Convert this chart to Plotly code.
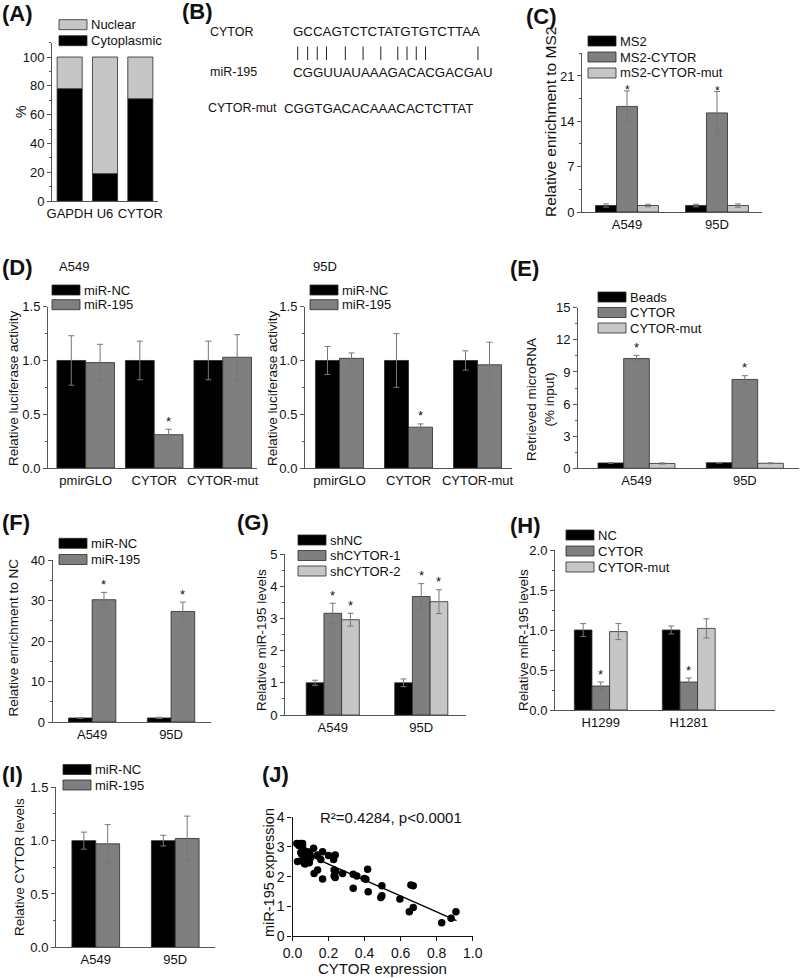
import plotly.graph_objects as go

W, H = 800, 978
FONT = "Liberation Sans, Arial, sans-serif"
BLACK = "#000000"
DARK = "#7f7f7f"
LIGHT = "#c6c6c6"
EDGE = "#2a2a2a"
ERRC = "#777777"
AXC = "#555555"
TXT = "#111111"

# ---------------- data ----------------
a_categories = ["GAPDH", "U6", "CYTOR"]
a_cytoplasmic = [78, 19, 71]
a_nuclear = [22, 81, 29]

b_cytor = "GCCAGTCTCTATGTGTCTTAA"
b_mir195 = "CGGUUAUAAAGACACGACGAU"
b_cytor_mut = "CGGTGACACAAACACTCTTAT"
b_pair_index = [0, 1, 2, 3, 5, 7, 9, 11, 12, 13, 14, 20]

cell_lines = ["A549", "95D"]
c_ms2 = [1.0, 1.0]
c_ms2_err = [0.25, 0.2]
c_ms2_cytor = [16.3, 15.3]
c_ms2_cytor_err = [2.4, 3.3]
c_ms2_mut = [1.0, 1.0]
c_ms2_mut_err = [0.2, 0.25]
c_stars = [(1, 0), (1, 1)]

d_constructs = ["pmirGLO", "CYTOR", "CYTOR-mut"]
d_a549_nc = [1.0, 1.0, 1.0]
d_a549_nc_err = [0.23, 0.18, 0.18]
d_a549_mir = [0.98, 0.31, 1.03]
d_a549_mir_err = [0.17, 0.05, 0.21]
d_95d_nc = [1.0, 1.0, 1.0]
d_95d_nc_err = [0.13, 0.25, 0.09]
d_95d_mir = [1.02, 0.38, 0.96]
d_95d_mir_err = [0.05, 0.03, 0.21]
d_stars = [(1, 1)]

e_beads = [0.5, 0.52]
e_beads_err = [0.03, 0.03]
e_cytor = [10.25, 8.3]
e_cytor_err = [0.3, 0.35]
e_cytor_mut = [0.45, 0.47]
e_cytor_mut_err = [0.05, 0.04]
e_stars = [(1, 0), (1, 1)]

f_nc = [1.0, 1.0]
f_nc_err = [0.1, 0.15]
f_mir = [30.2, 27.3]
f_mir_err = [1.8, 2.3]
f_stars = [(1, 0), (1, 1)]

g_shnc = [1.0, 1.0]
g_shnc_err = [0.08, 0.12]
g_sh1 = [3.16, 3.68]
g_sh1_err = [0.31, 0.4]
g_sh2 = [2.96, 3.52]
g_sh2_err = [0.2, 0.37]
g_stars = [(1, 0), (2, 0), (1, 1), (2, 1)]

h_lines = ["H1299", "H1281"]
h_nc = [1.0, 1.0]
h_nc_err = [0.08, 0.05]
h_cytor = [0.30, 0.35]
h_cytor_err = [0.05, 0.05]
h_mut = [0.98, 1.02]
h_mut_err = [0.1, 0.12]
h_stars = [(1, 0), (1, 1)]

i_nc = [1.0, 1.0]
i_nc_err = [0.08, 0.05]
i_mir = [0.97, 1.02]
i_mir_err = [0.18, 0.21]

j_x = [0.024, 0.043, 0.056, 0.056, 0.028, 0.046, 0.065, 0.074, 0.087, 0.065,
       0.083, 0.098, 0.117, 0.120, 0.139, 0.139, 0.157, 0.167, 0.167, 0.200,
       0.228, 0.237, 0.231, 0.240, 0.231, 0.237, 0.278, 0.337, 0.357, 0.337,
       0.398, 0.407, 0.417, 0.420, 0.496, 0.490, 0.496, 0.596, 0.648, 0.657,
       0.670, 0.670, 0.828, 0.880, 0.907, 0.052, 0.070, 0.093, 0.097, 0.084,
       0.035, 0.060, 0.100]
j_y = [3.12, 3.12, 3.12, 2.99, 2.51, 2.81, 2.73, 2.81, 2.73, 2.45,
       2.51, 2.62, 2.96, 2.11, 2.22, 2.73, 2.58, 2.84, 1.92, 2.71,
       2.58, 2.73, 2.22, 2.17, 2.02, 1.97, 2.11, 2.08, 2.02, 1.61,
       1.94, 1.91, 2.25, 1.49, 1.69, 1.30, 1.36, 1.25, 0.82, 1.72,
       1.69, 0.96, 0.45, 0.60, 0.82, 2.75, 2.43, 2.47, 2.76, 2.84,
       3.05, 2.62, 2.66]
j_fit_x = [0.03, 0.91]
j_fit_y = [2.88, 0.52]

# ---------------- helpers ----------------
def fx(px):
    return px / W

def fy(py):
    return 1 - py / H

fig = go.Figure()
annotations = []
shapes = []
layout_axes = {}


def txt(x, y, text, size=13, xanchor="left", angle=0, bold=False, color=TXT):
    annotations.append(dict(
        x=fx(x), y=fy(y), xref="paper", yref="paper", text=text, showarrow=False,
        xanchor=xanchor, yanchor="middle", textangle=angle,
        font=dict(family=FONT, size=size, color=color,
                  weight="bold" if bold else "normal"),
    ))


def refs(k):
    return ("x" if k == 1 else f"x{k}"), ("y" if k == 1 else f"y{k}")


def bar_axes(k, xpx, ypx, xrange, yrange, dtick, minor, tickfmt=None):
    xr, yr = refs(k)
    xa = "xaxis" if k == 1 else f"xaxis{k}"
    ya = "yaxis" if k == 1 else f"yaxis{k}"
    layout_axes[xa] = dict(
        domain=[fx(xpx[0]), fx(xpx[1])], range=xrange, anchor=yr, type="category",
        showline=True, linecolor=AXC, linewidth=1, ticks="", showgrid=False,
        zeroline=False, automargin=False,
        tickfont=dict(family=FONT, size=13, color=TXT),
    )
    yd = dict(
        domain=[fy(ypx[1]), fy(ypx[0])], range=yrange, anchor=xr,
        showline=True, linecolor=AXC, linewidth=1, ticks="outside", ticklen=4,
        tickwidth=1, tickcolor=AXC, dtick=dtick, tick0=0, showgrid=False,
        zeroline=False, automargin=False,
        tickfont=dict(family=FONT, size=13, color=TXT),
        minor=dict(ticks="outside", ticklen=2, dtick=minor, tickcolor=AXC, tickwidth=1),
    )
    if tickfmt:
        yd["tickformat"] = tickfmt
    layout_axes[ya] = yd


def bar_series(k, cats, series, bw, stars=(), star_shift=8, star_size=13):
    xr, yr = refs(k)
    n = len(series)
    offs = []
    for i, (vals, errs, color) in enumerate(series):
        off = -n * bw / 2 + i * bw
        offs.append(off)
        fig.add_trace(go.Bar(
            x=cats, y=vals, width=bw, offset=off, xaxis=xr, yaxis=yr,
            marker=dict(color=color, line=dict(color=EDGE, width=0.8)),
            error_y=dict(type="data", array=errs, color=ERRC, thickness=1, width=3),
            showlegend=False,
        ))
    for (si, ci) in stars:
        vals, errs, _ = series[si]
        annotations.append(dict(
            x=ci + offs[si] + bw / 2, y=vals[ci] + errs[ci], xref=xr, yref=yr,
            text="*", showarrow=False, yshift=star_shift, xanchor="center",
            yanchor="middle", font=dict(family=FONT, size=star_size, color=TXT),
        ))


def legend(xpx, y0, items, step=15.7, sw=28, sh=10, size=13):
    for i, (label, color) in enumerate(items):
        yc = y0 + i * step
        shapes.append(dict(
            type="rect", xref="paper", yref="paper", x0=fx(xpx), x1=fx(xpx + sw),
            y0=fy(yc + sh / 2), y1=fy(yc - sh / 2), fillcolor=color,
            line=dict(color=EDGE, width=0.8),
        ))
        txt(xpx + sw + 2, yc, label, size)


# ---------------- (A) ----------------
bar_axes(1, (52, 158), (42.6, 201), [-0.5, 2.5], [0, 110], 20, 10)
fig.add_trace(go.Bar(x=a_categories, y=a_cytoplasmic, width=0.71, offset=-0.355,
                     xaxis="x", yaxis="y",
                     marker=dict(color=BLACK, line=dict(color=EDGE, width=0.8)),
                     showlegend=False))
fig.add_trace(go.Bar(x=a_categories, y=a_nuclear, base=a_cytoplasmic, width=0.71,
                     offset=-0.355, xaxis="x", yaxis="y",
                     marker=dict(color=LIGHT, line=dict(color=EDGE, width=0.8)),
                     showlegend=False))
legend(59, 24.7, [("Nuclear", LIGHT), ("Cytoplasmic", BLACK)], step=16)
txt(21, 112, "%", 14, xanchor="center", angle=-90)
txt(0, 14, "(A)", 22, bold=True)

# ---------------- (B) ----------------
txt(180, 11, "(B)", 22, bold=True)
B_FS = 13.3
B_SEQ_X = 291
txt(208, 31.5, "CYTOR", 12.5)
txt(B_SEQ_X, 31.5, b_cytor, B_FS)
txt(208, 72.5, "miR-195", 12.5)
txt(B_SEQ_X, 72.5, b_mir195, B_FS)
txt(206, 108.5, "CYTOR-mut", 12.5)
txt(282, 108.5, b_cytor_mut, B_FS)
ARIAL_W = {"A": 0.667, "C": 0.722, "G": 0.778, "T": 0.611, "U": 0.722}
cum = [0.0]
for ch in b_cytor:
    cum.append(cum[-1] + ARIAL_W[ch])
for idx in b_pair_index:
    cx = B_SEQ_X + 1.5 + (cum[idx] + ARIAL_W[b_cytor[idx]] / 2) * B_FS
    shapes.append(dict(type="line", xref="paper", yref="paper", x0=fx(cx), x1=fx(cx),
                       y0=fy(60), y1=fy(46.5), line=dict(color="#222222", width=1)))

# ---------------- (C) ----------------
bar_axes(2, (582, 762), (53.3, 212), [-0.5, 1.5], [0, 24.5], 7, 3.5)
bar_series(2, cell_lines, [(c_ms2, c_ms2_err, BLACK),
                           (c_ms2_cytor, c_ms2_cytor_err, DARK),
                           (c_ms2_mut, c_ms2_mut_err, LIGHT)], 0.233, c_stars, 1, 12)
legend(588, 41, [("MS2", BLACK), ("MS2-CYTOR", DARK), ("mS2-CYTOR-mut", LIGHT)], step=16)
txt(550, 122, "Relative enrichment to MS2", 15.5, xanchor="center", angle=-90)
txt(524, 17, "(C)", 22, bold=True)

# ---------------- (D) ----------------
bar_axes(3, (48, 257), (306.7, 468), [-0.55, 2.5], [0, 1.5], 0.5, 0.25, ".1f")
bar_series(3, d_constructs, [(d_a549_nc, d_a549_nc_err, BLACK),
                             (d_a549_mir, d_a549_mir_err, DARK)], 0.42, d_stars)
legend(52, 290, [("miR-NC", BLACK), ("miR-195", DARK)], step=14.7)
txt(57, 266, "A549", 13)
txt(13, 388, "Relative luciferase activity", 13.5, xanchor="center", angle=-90)
txt(0, 267, "(D)", 22, bold=True)

bar_axes(4, (305, 512), (306.7, 468), [-0.5, 2.5], [0, 1.5], 0.5, 0.25, ".1f")
bar_series(4, d_constructs, [(d_95d_nc, d_95d_nc_err, BLACK),
                             (d_95d_mir, d_95d_mir_err, DARK)], 0.348, d_stars)
legend(310, 290, [("miR-NC", BLACK), ("miR-195", DARK)], step=14.7)
txt(311, 266, "95D", 13)
txt(272, 388, "Relative luciferase activity", 13.5, xanchor="center", angle=-90)

# ---------------- (E) ----------------
bar_axes(5, (578, 799), (307.7, 468.3), [-0.54, 1.5], [0, 15], 3, 1.5)
bar_series(5, cell_lines, [(e_beads, e_beads_err, BLACK),
                           (e_cytor, e_cytor_err, DARK),
                           (e_cytor_mut, e_cytor_mut_err, LIGHT)], 0.237, e_stars)
legend(598, 297, [("Beads", BLACK), ("CYTOR", DARK), ("CYTOR-mut", LIGHT)], step=15.5)
txt(540, 400, "Retrieved microRNA<br>(% input)", 13.5, xanchor="center", angle=-90)
txt(508, 268, "(E)", 22, bold=True)

# ---------------- (F) ----------------
bar_axes(6, (52.7, 210.5), (560, 722), [-0.5, 1.5], [0, 40], 10, 5)
bar_series(6, cell_lines, [(f_nc, f_nc_err, BLACK), (f_mir, f_mir_err, DARK)], 0.3, f_stars)
legend(59, 543.3, [("miR-NC", BLACK), ("miR-195", DARK)], step=16.2)
txt(12.5, 638, "Relative enrichment to NC", 13.5, xanchor="center", angle=-90)
txt(0, 522, "(F)", 22, bold=True)

# ---------------- (G) ----------------
bar_axes(7, (285, 465.5), (554, 715), [-0.54, 1.5], [0, 5], 1, 0.5)
bar_series(7, cell_lines, [(g_shnc, g_shnc_err, BLACK), (g_sh1, g_sh1_err, DARK),
                           (g_sh2, g_sh2_err, LIGHT)], 0.2, g_stars)
legend(298, 540, [("shNC", BLACK), ("shCYTOR-1", DARK), ("shCYTOR-2", LIGHT)], step=15.5)
txt(261, 640, "Relative miR-195 levels", 13.5, xanchor="center", angle=-90)
txt(235, 522, "(G)", 22, bold=True)

# ---------------- (H) ----------------
bar_axes(8, (555, 775), (550, 710), [-0.52, 1.98], [0, 2], 0.5, 0.25, ".1f")
bar_series(8, h_lines, [(h_nc, h_nc_err, BLACK), (h_cytor, h_cytor_err, DARK),
                        (h_mut, h_mut_err, LIGHT)], 0.2, h_stars)
legend(566, 535, [("NC", BLACK), ("CYTOR", DARK), ("CYTOR-mut", LIGHT)], step=16)
txt(523, 640, "Relative miR-195 levels", 13.5, xanchor="center", angle=-90)
txt(508, 525, "(H)", 22, bold=True)

# ---------------- (I) ----------------
bar_axes(9, (56, 215), (787.3, 947.3), [-0.5, 1.5], [0, 1.5], 0.5, 0.25, ".1f")
bar_series(9, cell_lines, [(i_nc, i_nc_err, BLACK), (i_mir, i_mir_err, DARK)], 0.3)
legend(63, 769.5, [("miR-NC", BLACK), ("miR-195", DARK)], step=15.5)
txt(19, 867, "Relative CYTOR levels", 13.5, xanchor="center", angle=-90)
txt(0, 774, "(I)", 22, bold=True)

# ---------------- (J) ----------------
layout_axes["xaxis10"] = dict(
    domain=[fx(292.5), fx(472.7)], range=[0, 1.0], anchor="y10", showline=True,
    linecolor="#111111", linewidth=1.3, ticks="outside", ticklen=4, tickwidth=1.3,
    tickcolor="#111111", dtick=0.2, tick0=0, tickformat=".1f", showgrid=False,
    zeroline=False, automargin=False, tickfont=dict(family=FONT, size=14, color=TXT),
)
layout_axes["yaxis10"] = dict(
    domain=[fy(936), fy(817.3)], range=[0, 4], anchor="x10", showline=True,
    linecolor="#111111", linewidth=1.3, ticks="outside", ticklen=4, tickwidth=1.3,
    tickcolor="#111111", dtick=1, tick0=0, showgrid=False, zeroline=False,
    automargin=False, tickfont=dict(family=FONT, size=14, color=TXT),
)
fig.add_trace(go.Scatter(x=j_x, y=j_y, mode="markers", xaxis="x10", yaxis="y10",
                         marker=dict(color="#000000", size=7.5), showlegend=False,
                         cliponaxis=False))
fig.add_trace(go.Scatter(x=j_fit_x, y=j_fit_y, mode="lines", xaxis="x10", yaxis="y10",
                         line=dict(color="#000000", width=1.4), showlegend=False))
txt(391, 817, "R²=0.4284, p&lt;0.0001", 15, xanchor="center")
txt(269, 873, "miR-195 expression", 14.5, xanchor="center", angle=-90)
txt(382.5, 968.5, "CYTOR expression", 15, xanchor="center")
txt(260, 774, "(J)", 22, bold=True)

fig.update_layout(
    template="none",
    width=W, height=H, autosize=False,
    margin=dict(l=0, r=0, t=0, b=0, pad=0, autoexpand=False),
    paper_bgcolor="white", plot_bgcolor="rgba(0,0,0,0)",
    barmode="overlay", showlegend=False,
    font=dict(family=FONT, size=13, color=TXT),
    annotations=annotations, shapes=shapes,
    **layout_axes,
)

fig.write_html(
    "out.html",
    config={"displayModeBar": False},
    post_script="document.body.style.margin='0px';document.body.style.padding='0px';",
)
